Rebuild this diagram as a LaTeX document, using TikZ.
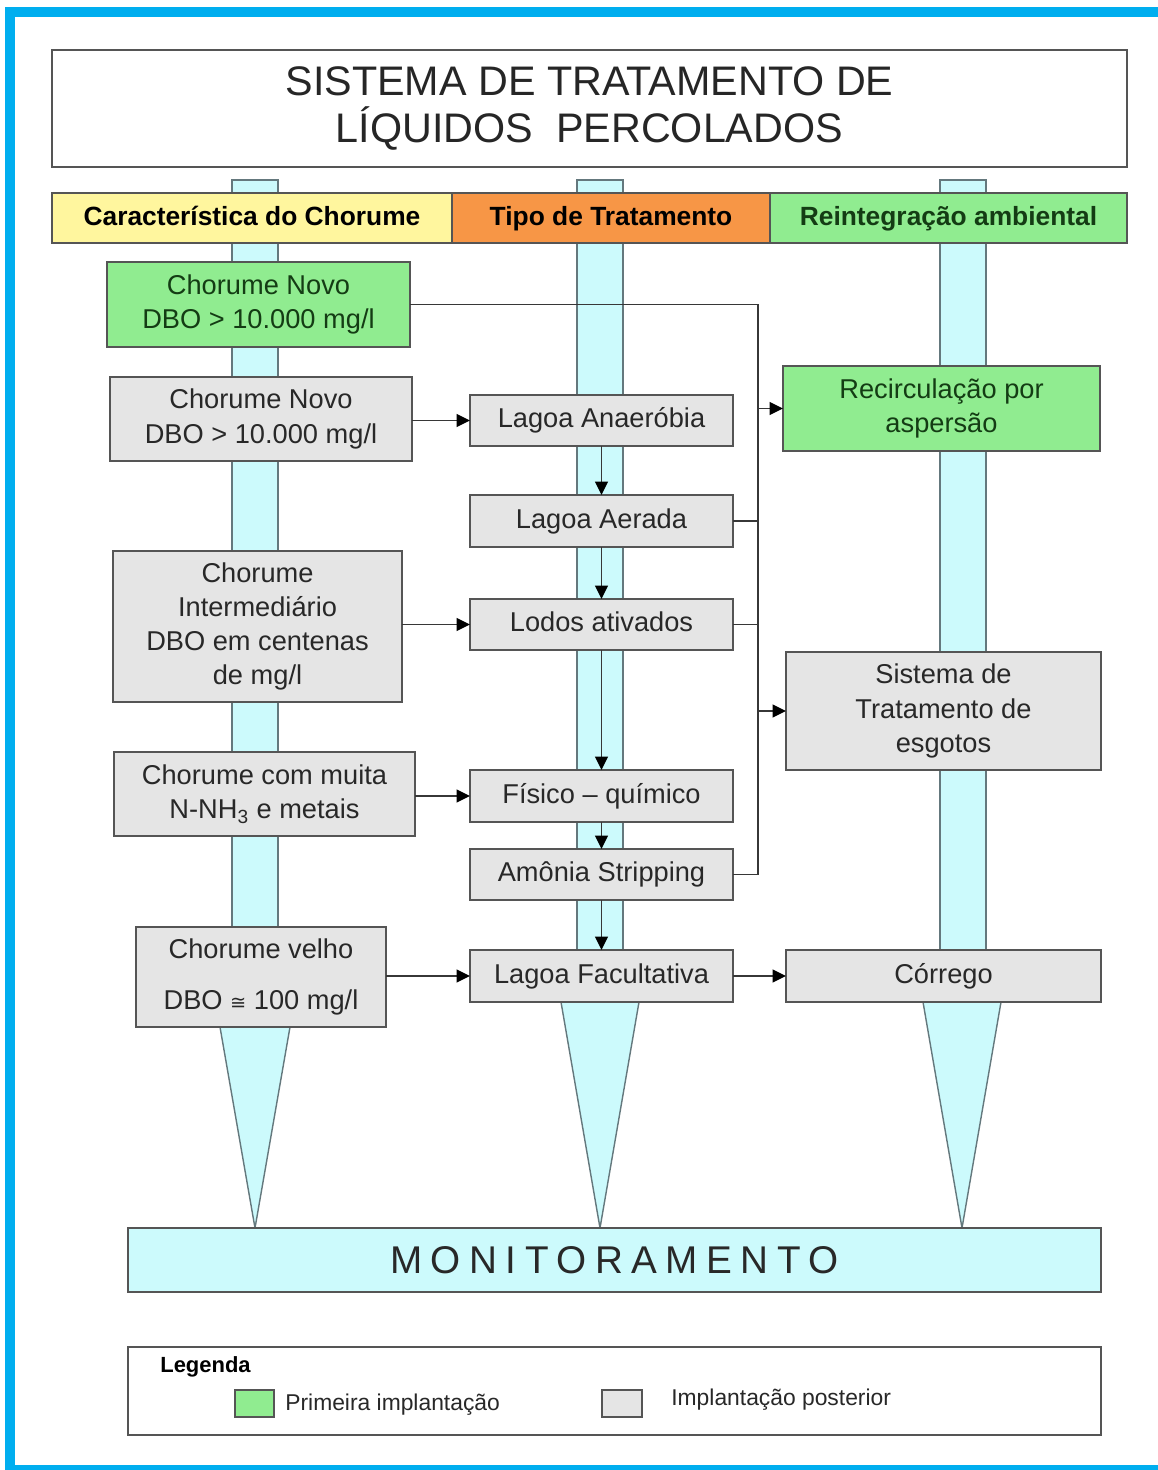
\documentclass[tikz,border=0pt]{standalone}
\usepackage{fontspec}
\setmainfont{Liberation Sans}
\newfontfamily\simbolos{DejaVu Sans}
\usetikzlibrary{arrows.meta}

\definecolor{azulmoldura}{RGB}{0,174,239}
\definecolor{ciano}{RGB}{204,250,252}
\definecolor{bordaciano}{RGB}{100,120,125}
\definecolor{verde}{RGB}{144,236,144}
\definecolor{cinza}{RGB}{229,229,229}
\definecolor{amarelo}{RGB}{255,246,158}
\definecolor{laranja}{RGB}{247,150,70}
\definecolor{borda}{RGB}{85,85,85}
\definecolor{fio}{RGB}{55,55,55}
\definecolor{textocinza}{RGB}{40,40,40}
\definecolor{textoverde}{RGB}{20,60,20}

\begin{document}
\begin{tikzpicture}[x=0.02cm, y=-0.02cm,
    caixa/.style={draw=borda, line width=1pt, inner sep=0pt, outer sep=0pt,
                  align=center, font=\fontsize{15.5}{19.5}\selectfont},
    cinzabox/.style={caixa, fill=cinza, text=textocinza},
    verdebox/.style={caixa, fill=verde, text=textoverde},
    umalinha/.style={text height=11.5pt, text depth=3.5pt},
    cabecalho/.style={caixa, umalinha, font=\bfseries\fontsize{15}{18}\selectfont},
    linha/.style={draw=fio, line width=0.9pt},
    seta/.style={linha, -{Triangle[length=0.27cm, width=0.26cm, color=black]}},
    coluna/.style={fill=ciano, draw=bordaciano, line width=0.8pt}]

    % caixa dada pelos cantos (em pixels da figura)
    \newcommand{\caixa}[7]{
        \node[#1, minimum width={(#5-#3)*0.02cm}, minimum height={(#6-#4)*0.02cm}]
            (#2) at ({(#3+#5)/2}, {(#4+#6)/2}) {#7};
    }
    % coluna ciano: barra + ponta triangular
    \newcommand{\coluna}[6]{
        \draw[coluna] (#1, 180) rectangle (#2, #3);
        \draw[coluna] (#4, #3) -- (#5, #3) -- (#6, 1228) -- cycle;
    }

    \useasboundingbox (0,0) rectangle (1158,1470);
    \clip (0,0) rectangle (1158,1470);
    \fill[white] (0,0) rectangle (1158,1470);

    % -- Moldura azul --
    \draw[azulmoldura, line width=0.2cm] (10,12) rectangle (1190,1470);

    % -- Colunas --
    \coluna{232}{278}{1027}{220}{290}{255}
    \coluna{577}{623}{1002}{561}{639}{600}
    \coluna{940}{986}{1002}{923}{1001}{962}

    % -- Titulo e cabecalhos --
    \caixa{caixa, fill=white, font=\fontsize{23.5}{27}\selectfont, text=black!85}{titulo}{52}{50}{1127}{167}
        {SISTEMA DE TRATAMENTO DE\\LÍQUIDOS\ \ PERCOLADOS}
    \caixa{cabecalho, fill=amarelo}{cab1}{52}{193}{452}{243}{Característica do Chorume}
    \caixa{cabecalho, fill=laranja}{cab2}{452}{193}{770}{243}{Tipo de Tratamento}
    \caixa{cabecalho, fill=verde, text=textoverde}{cab3}{770}{193}{1127}{243}{Reintegração ambiental}

    % -- Caracteristica do chorume --
    \caixa{verdebox}{novoA}{107}{262}{410}{347}{Chorume Novo\\DBO > 10.000 mg/l}
    \caixa{cinzabox}{novoB}{110}{377}{412}{461}{Chorume Novo\\DBO > 10.000 mg/l}
    \caixa{cinzabox}{inter}{113}{551}{402}{702}{Chorume\\Intermediário\\DBO em centenas\\de mg/l}
    \caixa{cinzabox}{amonia}{114}{752}{415}{836}{Chorume com muita\\N-NH\textsubscript{3} e metais}
    \caixa{cinzabox}{velho}{136}{927}{386}{1027}
        {Chorume velho\\[0.32cm]DBO {\simbolos\fontsize{11}{11}\selectfont ≅} 100 mg/l}

    % -- Tipo de tratamento --
    \caixa{cinzabox, umalinha}{anaer}{470}{395}{733}{446}{Lagoa Anaeróbia}
    \caixa{cinzabox, umalinha}{aerada}{470}{495}{733}{547}{Lagoa Aerada}
    \caixa{cinzabox, umalinha}{lodos}{470}{599}{733}{650}{Lodos ativados}
    \caixa{cinzabox, umalinha}{fisq}{470}{770}{733}{822}{Físico – químico}
    \caixa{cinzabox, umalinha}{strip}{470}{849}{733}{900}{Amônia Stripping}
    \caixa{cinzabox, umalinha}{facult}{470}{950}{733}{1002}{Lagoa Facultativa}

    % -- Reintegracao ambiental --
    \caixa{verdebox}{recirc}{783}{366}{1100}{451}{Recirculação por\\aspersão}
    \caixa{cinzabox}{esgoto}{786}{652}{1101}{770}{Sistema de\\Tratamento de\\esgotos}
    \caixa{cinzabox, umalinha}{corrego}{786}{950}{1101}{1002}{Córrego}

    % -- Ligacoes --
    \coordinate (barra) at (758,304);
    \draw[linha] (novoA.east) -| (strip.east -| barra) -- (strip.east);
    \draw[linha] (aerada.east) -- (aerada.east -| barra);
    \draw[linha] (lodos.east) -- (lodos.east -| barra);
    \draw[seta] (recirc.west -| barra) -- (recirc.west);
    \draw[seta] (esgoto.west -| barra) -- (esgoto.west);

    \draw[seta] (novoB.east |- anaer.west) -- (anaer.west);
    \draw[seta] (inter.east |- lodos.west) -- (lodos.west);
    \draw[seta] (amonia.east |- fisq.west) -- (fisq.west);
    \draw[seta] (velho.east |- facult.west) -- (facult.west);
    \draw[seta] (facult.east) -- (corrego.west);

    \draw[seta] (anaer.south) -- (aerada.north);
    \draw[seta] (aerada.south) -- (lodos.north);
    \draw[seta] (lodos.south) -- (fisq.north);
    \draw[seta] (fisq.south) -- (strip.north);
    \draw[seta] (strip.south) -- (facult.north);

    % -- Monitoramento --
    \caixa{caixa, fill=ciano, text=textocinza, font=\fontsize{22}{26}\selectfont}{monit}{128}{1228}{1101}{1292}
        {\addfontfeature{LetterSpace=22}MONITORAMENTO}

    % -- Legenda --
    \caixa{caixa, fill=white}{legenda}{128}{1347}{1101}{1435}{}
    \node[anchor=west, inner sep=0pt, font=\bfseries\fontsize{12.5}{15}\selectfont] (leg) at (160,1367) {Legenda};
    \caixa{caixa, fill=verde, line width=1.2pt}{amostraV}{235}{1390}{274}{1417}{}
    \caixa{caixa, fill=cinza, line width=1.2pt}{amostraC}{602}{1390}{642}{1417}{}
    \node[anchor=west, inner sep=0pt, text=textocinza, font=\fontsize{13}{15}\selectfont] (legV) at (285,1405) {Primeira implantação};
    \node[anchor=west, inner sep=0pt, text=textocinza, font=\fontsize{13}{15}\selectfont] (legC) at (671,1400) {Implantação posterior};

\end{tikzpicture}
\end{document}
